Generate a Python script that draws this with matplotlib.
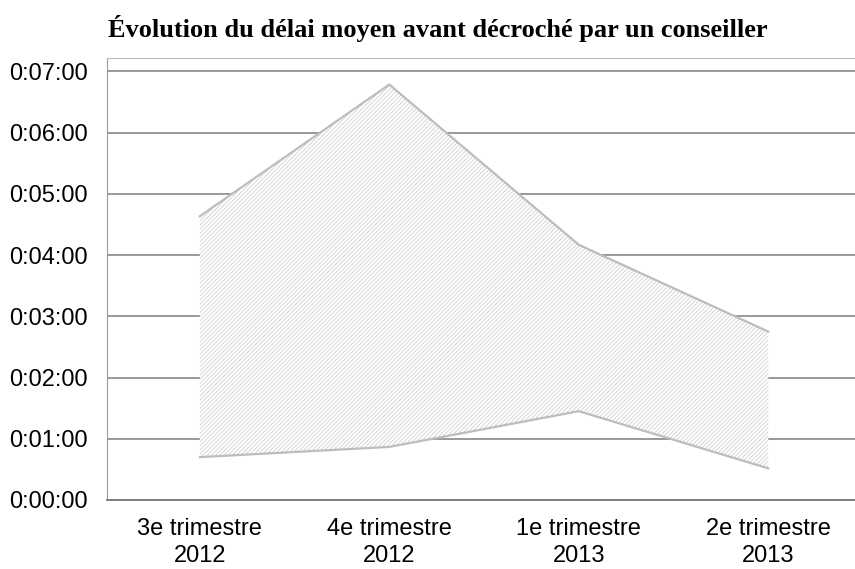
import matplotlib.pyplot as plt
from matplotlib.ticker import FuncFormatter
import numpy as np

# durations in seconds
categories = ['3e trimestre\n2012', '4e trimestre\n2012', '1e trimestre\n2013', '2e trimestre\n2013']
delai_min = [42, 52, 87, 31]
delai_max = [278, 407, 250, 165]

plt.rcParams['hatch.linewidth'] = 0.5

fig = plt.figure(figsize=(8.55, 5.69), dpi=100)
ax = fig.add_axes([107/855, (569-500)/569, (863-107)/855, (500-58)/569])

x = np.arange(len(categories))
ax.fill_between(x, delai_min, delai_max, facecolor='white', edgecolor='#c6c6c6',
                hatch='////////', linewidth=0, zorder=3)
ax.plot(x, delai_max, color='#bdbdbd', lw=1.6, zorder=4)
ax.plot(x, delai_min, color='#bdbdbd', lw=1.6, zorder=4)

ax.set_xlim(-0.49, 3.5)
ax.set_ylim(0, 433)
ax.set_yticks(np.arange(0, 421, 60))
ax.yaxis.set_major_formatter(FuncFormatter(lambda v, p: '%d:%02d:%02d' % (v // 3600, (v % 3600) // 60, v % 60)))
ax.set_xticks(x)
ax.set_xticklabels(categories, linespacing=1.28)

ax.grid(axis='y', color='#878787', lw=1.2, zorder=1)
ax.set_axisbelow(True)
ax.tick_params(length=0, labelsize=17, pad=14)
for lab in ax.get_xticklabels() + ax.get_yticklabels():
    lab.set_family('Liberation Sans')
ax.tick_params(axis='x', pad=13)

ax.spines['left'].set_color('#999999')
ax.spines['top'].set_color('#c0c0c0')
ax.spines['bottom'].set_color('#777777')
ax.spines['bottom'].set_linewidth(1.3)
ax.spines['right'].set_visible(False)

fig.text(438/855, 1 - 29/569, 'Évolution du délai moyen avant décroché par un conseiller',
         ha='center', va='center', family='Liberation Serif', weight='bold', fontsize=19)

fig.savefig('out.png', dpi=100)
